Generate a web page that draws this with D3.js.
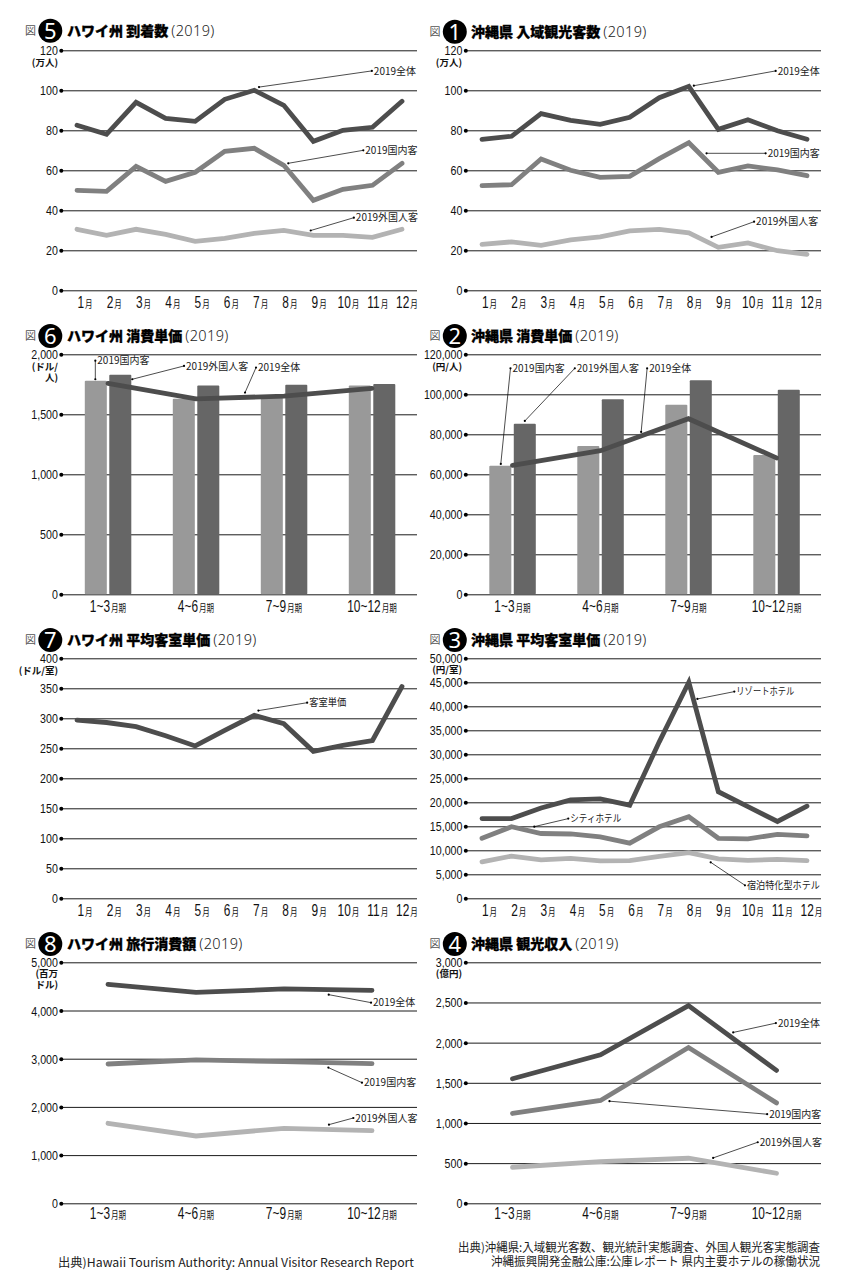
<!DOCTYPE html>
<html lang="ja"><head><meta charset="utf-8">
<script src="https://cdnjs.cloudflare.com/ajax/libs/d3/7.8.5/d3.min.js"></script>
<style>
html,body{margin:0;padding:0;background:#fff}
svg{display:block}
text{font-family:"Noto Sans CJK JP","Noto Sans",sans-serif}
</style></head><body><svg id="c" width="846" height="1280"></svg>
<script>
const months=["1","2","3","4","5","6","7","8","9","10","11","12"];
const quarters=["1~3","4~6","7~9","10~12"];

const hiArrTotal=[82.5,78,94,86,84.5,95.5,100,92.5,74.5,80,81.5,94.5];
const hiArrDomestic=[50,49.5,62,54.5,59,69.5,71,62.5,45,50.5,52.5,63.5];
const hiArrForeign=[30.5,27.5,30.5,28,24.5,26,28.5,30,27.5,27.5,26.5,30.5];

const okArrTotal=[75.5,77,88.3,85,83,86.5,96.3,102,80.5,85.3,79.8,75.5];
const okArrDomestic=[52.3,52.8,65.7,60,56.5,57,65.8,73.8,59,62.2,60.2,57.3];
const okArrForeign=[23,24.2,22.5,25.2,26.7,29.7,30.5,28.7,21.5,23.7,19.8,18];

const hiSpendDomestic=[1780,1630,1645,1740];
const hiSpendForeign=[1830,1740,1747,1752];
const hiSpendTotal=[1758,1628,1652,1716];

const okSpendDomestic=[64300,74200,94800,69700];
const okSpendForeign=[85300,97500,107000,102300];
const okSpendTotal=[64500,71800,87800,68200];

const hiRoom=[297,293,286,271,254,280,305,291,245,255,263,353];

const okResort=[16600,16600,18800,20500,20700,19400,32600,45000,22200,19100,16000,19200];
const okCity=[12500,14900,13500,13400,12800,11500,14900,17000,12500,12400,13300,13000];
const okSpecial=[7600,8800,8000,8300,7800,7850,8750,9500,8200,7900,8100,7850];

const hiExpTotal=[4543,4377,4447,4419];
const hiExpDomestic=[2890,2974,2939,2898];
const hiExpForeign=[1660,1397,1556,1508];

const okIncTotal=[1550,1849,2460,1654];
const okIncDomestic=[1118,1280,1940,1250];
const okIncForeign=[449,519,561,374];

const C={dark:"#4d4d4d",mid:"#808080",light:"#b3b3b3",barL:"#999999",barD:"#666666"};
const svg=d3.select("#c");
const num=d3.format(",");

const panels=[
 {n:"5",side:0,title:"ハワイ州 到着数",top:50.3,bottom:290.3,ty:30.7,max:120,step:20,unit:["(万人)"],uy:62.3,kind:"m",
  lines:[[hiArrForeign,C.light],[hiArrDomestic,C.mid],[hiArrTotal,C.dark]],
  notes:[["2019全体",6.16,101.6,9.98,109.7],["2019国内客",7.15,63.5,9.69,70],["2019外国人客",7.91,29.9,9.37,36.3]]},
 {n:"1",side:1,title:"沖縄県 入域観光客数",top:50.3,bottom:290.3,ty:31.7,max:120,step:20,unit:["(万人)"],uy:62.3,kind:"m",
  lines:[[okArrForeign,C.light],[okArrDomestic,C.mid],[okArrTotal,C.dark]],
  notes:[["2019全体",7.17,102.3,9.94,109.7],["2019国内客",7.6,68.5,9.6,68.5],["2019外国人客",7.77,26.7,9.21,34.3]]},
 {n:"6",side:0,title:"ハワイ州 消費単価",top:354.3,bottom:594.3,ty:336,max:2000,step:500,unit:["(ドル/","人)"],uy:366.7,kind:"q",
  bars:[hiSpendDomestic,hiSpendForeign],lines:[[hiSpendTotal,C.dark]],
  notes:[["2019国内客",-.144,1792,-.144,1947],["2019外国人客",.276,1792,.864,1903],["2019全体",1.557,1681,1.682,1889]]},
 {n:"2",side:1,title:"沖縄県 消費単価",top:354.3,bottom:594.3,ty:336,max:120000,step:20000,unit:["(円/人)"],uy:366.7,kind:"q",
  bars:[okSpendDomestic,okSpendForeign],lines:[[okSpendTotal,C.dark]],
  notes:[["2019国内客",-.133,65170,-.023,113000],["2019外国人客",.14,86670,.708,113000],["2019全体",1.462,81170,1.53,113000]]},
 {n:"7",side:0,title:"ハワイ州 平均客室単価",top:658.3,bottom:898.3,ty:640,max:400,step:50,unit:["(ドル/室)"],uy:671,kind:"m",
  lines:[[hiRoom,C.dark]],
  notes:[["客室単価",6.14,312.8,7.79,326,37]]},
 {n:"3",side:1,title:"沖縄県 平均客室単価",top:658.3,bottom:898.3,ty:640,max:50000,step:5000,unit:["(円/室)"],uy:670,kind:"m",
  lines:[[okSpecial,C.light],[okCity,C.mid],[okResort,C.dark]],
  notes:[["リゾートホテル",7.29,41530,8.54,43060,58],["シティホテル",1.77,14930,2.92,16600,51],["宿泊特化型ホテル",7.74,7500,8.9,2710,73]]},
 {n:"8",side:0,title:"ハワイ州 旅行消費額",top:962.3,bottom:1203.3,ty:944,max:5000,step:1000,unit:["(百万","ドル)"],uy:974,kind:"q",tickDy:10,
  lines:[[hiExpForeign,C.light],[hiExpDomestic,C.mid],[hiExpTotal,C.dark]],
  notes:[["2019全体",2.508,4329,2.989,4163],["2019国内客",2.504,2815,2.886,2503],["2019外国人客",2.511,1632,2.788,1770]]},
 {n:"4",side:1,title:"沖縄県 観光収入",top:962.3,bottom:1203.3,ty:944,max:3000,step:500,unit:["(億円)"],uy:974,kind:"q",tickDy:10,
  lines:[[okIncForeign,C.light],[okIncDomestic,C.mid],[okIncTotal,C.dark]],
  notes:[["2019全体",2.508,2127,2.993,2243],["2019国内客",1.102,1271,2.894,1109],["2019外国人客",2.28,565,2.787,760]]}
];

function drawPanel(p){
  const off=p.side?404.5:0;
  const gL=61.3+off, gR=417+off-(p.side?.5:0);
  const g=svg.append("g");
  const y=d3.scaleLinear().domain([0,p.max]).range([p.bottom,p.top]);
  const ticks=d3.range(0,p.max+1,p.step);

  // header
  const cx=50.3+off;
  g.append("text").attr("x",25+off).attr("y",p.ty+4).attr("font-size",11).attr("fill","#555").text("図");
  g.append("circle").attr("cx",cx).attr("cy",p.ty).attr("r",12).attr("fill","#000");
  g.append("text").attr("x",cx).attr("y",p.ty+8).attr("text-anchor","middle").attr("font-size",22)
    .attr("fill","#fff").style("font-family","'Noto Sans',sans-serif").text(p.n);
  const t=g.append("text").attr("x",67+off-(p.side?.5:0)).attr("y",p.ty+5.3);
  t.append("tspan").attr("font-size",14).attr("font-weight",900).attr("fill","#000")
    .attr("stroke","#000").attr("stroke-width",.3).text(p.title);
  t.append("tspan").attr("font-size",14.5).attr("font-weight",300).attr("fill","#222")
    .attr("dx",3).attr("letter-spacing",.4).style("font-family","'Noto Sans',sans-serif").text("(2019)");

  // y axis and grid
  const ya=g.append("g").attr("transform",`translate(${gL},0)`)
    .call(d3.axisLeft(y).tickValues(ticks).tickSize(-(gR-gL)).tickPadding(3).tickFormat(num));
  ya.select(".domain").remove();
  ya.selectAll(".tick line").attr("stroke","#000").attr("stroke-width",.9);
  ya.selectAll(".tick").append("circle").attr("r",2).attr("fill","#000");
  ya.selectAll(".tick text").attr("fill","#111").attr("font-size",13).attr("x",0).attr("dy",0)
    .style("font-family","'Liberation Sans Narrow','Liberation Sans',sans-serif")
    .attr("text-anchor","end").attr("transform","translate(-3.4,4.5) scale(.82,1)");

  // x scales
  let xBand,xAt,labelScale,suffix;
  if(p.kind==="m"){
    xBand=d3.scalePoint().domain(months).range([77+off+(p.side?.5:0),402+off+(p.side?.5:0)]);
    xAt=d3.scaleLinear().domain([0,11]).range([xBand(months[0]),xBand(months[11])]);
    labelScale=d3.scalePoint().domain(months).range([84.5+off,406.5+off]);
    suffix="月";
  }else{
    xBand=d3.scaleBand().domain(quarters).range([64+off,416+off]);
    const c0=xBand(quarters[0])+xBand.bandwidth()/2, c3=xBand(quarters[3])+xBand.bandwidth()/2;
    xAt=d3.scaleLinear().domain([0,3]).range([c0,c3]);
    labelScale=xBand;
    suffix="月期";
  }
  const xa=g.append("g").attr("transform",`translate(0,${p.bottom})`)
    .call(d3.axisBottom(labelScale).tickSize(0).tickFormat(""));
  xa.select(".domain").remove();
  const dy=p.tickDy||11.7;
  const tickGs=xa.selectAll(".tick");
  tickGs.select("text").remove();
  tickGs.each(function(d){
    const tx=d3.select(this).append("text").attr("text-anchor","middle").attr("fill","#111")
      .attr("transform",`translate(0,${dy+5.7}) scale(.72,1)`);
    tx.append("tspan").attr("font-size",16.5).style("font-family","'Liberation Sans Narrow','Liberation Sans',sans-serif").text(d);
    tx.append("tspan").attr("font-size",10.5).attr("dx",1.5).text(suffix);
  });

  // bars
  if(p.bars){
    const inner=d3.scaleBand().domain([0,1]).range([0,46.5]).paddingInner(.1);
    const cols=[C.barL,C.barD];
    p.bars.forEach((vals,si)=>{
      g.append("g").selectAll("rect").data(vals).join("rect")
        .attr("x",(d,i)=>xAt(i)-23.2+inner(si)).attr("width",inner.bandwidth())
        .attr("y",d=>y(d)).attr("height",d=>y(0)-y(d)).attr("rx",1)
        .attr("fill",cols[si]);
    });
  }

  // lines
  const line=d3.line().x((d,i)=>xAt(i)).y(d=>y(d));
  p.lines.forEach(([vals,col])=>{
    g.append("path").attr("d",line(vals)).attr("fill","none").attr("stroke",col)
      .attr("stroke-width",4.8).attr("stroke-linecap","round").attr("stroke-linejoin","miter");
  });

  // leaders
  p.notes.forEach(([label,i0,v0,i1,v1,width])=>{
    const x0=xAt(i0),y0=y(v0),x1=xAt(i1),y1=y(v1);
    g.append("line").attr("x1",x0).attr("y1",y0).attr("x2",x1).attr("y2",y1)
      .attr("stroke","#000").attr("stroke-width",.7);
    g.selectAll(null).data([[x0,y0],[x1,y1]]).join("circle")
      .attr("cx",d=>d[0]).attr("cy",d=>d[1]).attr("r",1.1).attr("fill","#000");
    const lb=g.append("text").attr("x",x1+2).attr("y",y1+3.6).attr("font-size",10).attr("fill","#222").text(label);
    if(width) lb.attr("textLength",width).attr("lengthAdjust","spacingAndGlyphs");
  });

  // unit
  p.unit.forEach((u,i)=>{
    g.append("text").attr("x",58+off-(p.side?.5:0)).attr("y",p.uy+3.3+i*10.7).attr("text-anchor","end")
      .attr("font-size",9.5).attr("font-weight",700).attr("fill","#111").text(u);
  });
}
panels.forEach(drawPanel);

const sources=[
 ["出典)Hawaii Tourism Authority: Annual Visitor Research Report",414,1266.5,356],
 ["出典)沖縄県:入域観光客数、観光統計実態調査、外国人観光客実態調査",820,1252,362],
 ["沖縄振興開発金融公庫:公庫レポート 県内主要ホテルの稼働状況",820,1266,329]
];
svg.append("g").selectAll("text").data(sources).join("text")
  .attr("x",d=>d[1]-d[3]).attr("y",d=>d[2]).attr("font-size",12)
  .attr("textLength",d=>d[3]).attr("lengthAdjust","spacingAndGlyphs")
  .attr("fill","#222").text(d=>d[0]);
</script></body></html>
